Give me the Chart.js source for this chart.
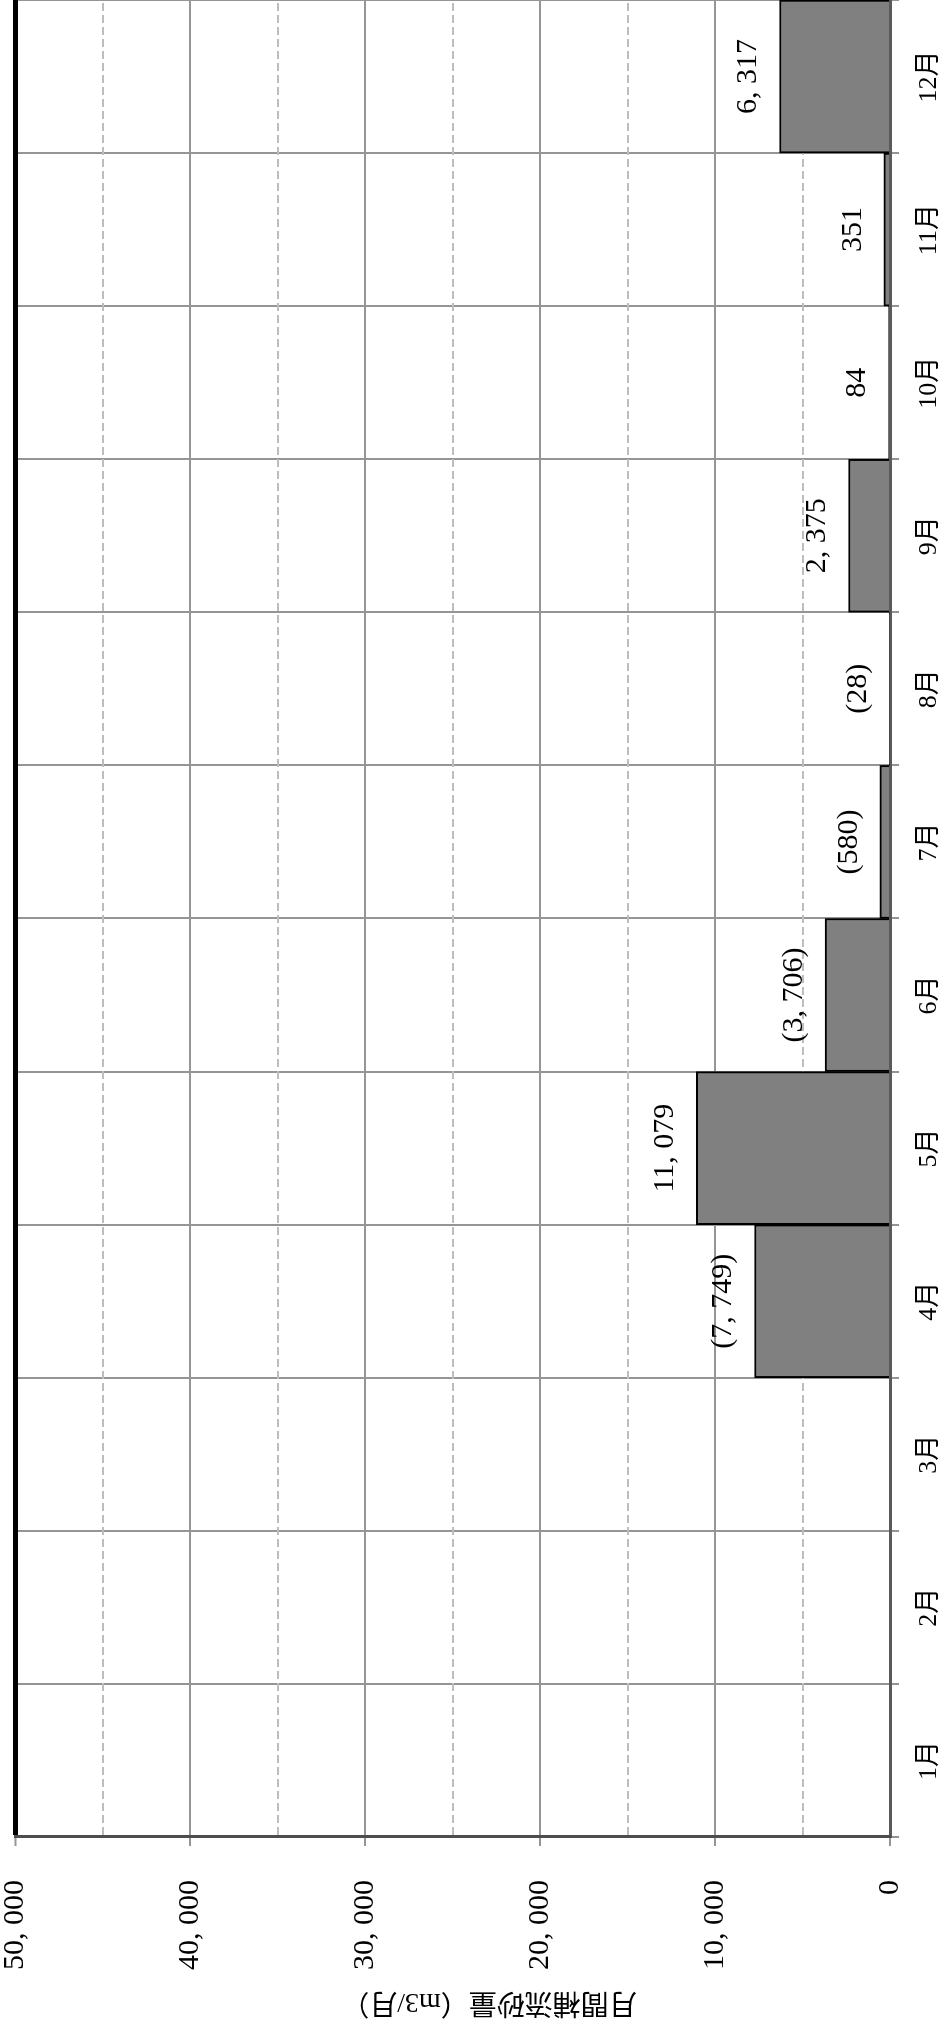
<!DOCTYPE html>
<html>
<head>
<meta charset="utf-8">
<script src="https://cdn.jsdelivr.net/npm/chart.js@4.4.0/dist/chart.umd.min.js"></script>
<style>
  html, body { margin: 0; padding: 0; background: #fff; overflow: hidden; width: 947px; height: 2025px; }
  /* the chart is laid out landscape and turned a quarter turn counter-clockwise */
  #frame { position: absolute; left: 0; top: 0; width: 2025px; height: 947px;
           transform-origin: 0 0; transform: translate(0, 2025px) rotate(-90deg); }
  canvas { display: block; }
</style>
</head>
<body>
<div id="frame"><canvas id="chart" width="2025" height="947"></canvas></div>
<script>
// Months on the category axis
const months = ['1月', '2月', '3月', '4月', '5月', '6月', '7月', '8月', '9月', '10月', '11月', '12月'];
// Net monthly sediment volume (m3); negative months are written in parentheses
const netVolume = [null, null, null, -7749, 11079, -3706, -580, -28, 2375, 84, 351, 6317];
// Value axis range and labelled ticks
const valueMin = 0;
const valueMax = 50000;
const labelledStep = 10000;
const gridStep = 5000;
const axisTitle = '月間補流砂量（m3/月）';

const FONT = "'Liberation Serif', 'Noto Sans CJK JP', serif";

const fmt = v => Math.abs(v).toLocaleString('en-US').replace(/,/g, ', ');
const valueLabel = v => (v < 0 ? '(' + fmt(v) + ')' : fmt(v));

// Bar heights are the magnitudes of the net volumes
const barHeights = netVolume.map(v => (v === null ? null : Math.abs(v)));

// Writes each month's value just beyond the end of its bar
const barLabels = {
  id: 'barLabels',
  afterDatasetsDraw(chart, args, opts) {
    const ctx = chart.ctx;
    const meta = chart.getDatasetMeta(0);
    ctx.save();
    ctx.font = opts.size + 'px ' + FONT;
    ctx.fillStyle = '#000';
    ctx.textAlign = 'center';
    ctx.textBaseline = 'middle';
    meta.data.forEach((bar, i) => {
      const v = netVolume[i];
      if (v === null) return;
      ctx.fillText(valueLabel(v), bar.x, bar.y - opts.offset);
    });
    ctx.restore();
  }
};

// Value-axis caption
const axisCaption = {
  id: 'axisCaption',
  afterDraw(chart, args, opts) {
    const ctx = chart.ctx;
    ctx.save();
    ctx.font = opts.size + 'px ' + FONT;
    ctx.fillStyle = '#000';
    ctx.textAlign = 'center';
    ctx.textBaseline = 'middle';
    ctx.translate(opts.x, opts.y);
    ctx.rotate(-Math.PI / 2);
    ctx.fillText(opts.text, 0, 0);
    ctx.restore();
  }
};

const isLabelled = v => v % labelledStep === 0;

new Chart(document.getElementById('chart'), {
  type: 'bar',
  data: {
    labels: months,
    datasets: [{
      data: barHeights,
      backgroundColor: '#808080',
      borderColor: '#000',
      borderWidth: 2,
      barPercentage: 1,
      categoryPercentage: 1
    }]
  },
  options: {
    responsive: false,
    animation: false,
    layout: { padding: { left: 21, right: 0, top: 0, bottom: -12 } },
    plugins: {
      legend: { display: false },
      tooltip: { enabled: false },
      barLabels: { size: 30, offset: 31 },
      axisCaption: { text: axisTitle, size: 28, x: 24, y: 489 }
    },
    scales: {
      x: {
        offset: true,
        grid: {
          offset: true,
          color: '#959595',
          lineWidth: 2,
          tickLength: 9,
          tickColor: '#959595',
          tickWidth: 2
        },
        border: { display: true, color: '#5a5a5a', width: 3 },
        ticks: {
          font: { family: FONT, size: 26, lineHeight: 1 },
          color: '#000',
          padding: 17,
          maxRotation: 0,
          autoSkip: false
        }
      },
      y: {
        min: valueMin,
        max: valueMax,
        afterFit: s => { s.paddingTop = 15.5; s.paddingBottom = 0; },
        grid: {
          color: c => (c.tick.value === valueMax ? '#000' : isLabelled(c.tick.value) ? '#959595' : '#bdbdbd'),
          lineWidth: c => (c.tick.value === valueMax ? 5 : 2),
          tickLength: 9,
          tickColor: c => (isLabelled(c.tick.value) ? '#959595' : 'rgba(0,0,0,0)'),
          tickWidth: 2
        },
        border: {
          display: true,
          color: '#4d4d4d',
          width: 3,
          dash: c => (c.tick && !isLabelled(c.tick.value) ? [8, 4] : [])
        },
        ticks: {
          stepSize: gridStep,
          autoSkip: false,
          font: { family: FONT, size: 30 },
          color: '#000',
          padding: 34,
          callback: v => (isLabelled(v) ? fmt(v) : '')
        }
      }
    }
  },
  plugins: [barLabels, axisCaption]
});
</script>
</body>
</html>
